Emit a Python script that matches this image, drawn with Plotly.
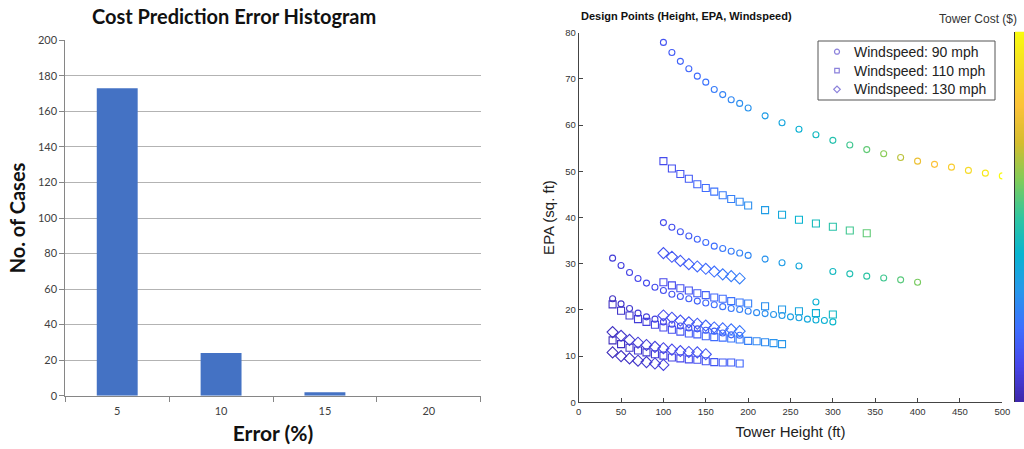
import numpy as np
import plotly.graph_objects as go

# ---------------- Histogram of cost prediction error ----------------
error_bins = ["5", "10", "15", "20"]
case_counts = [173, 24, 2, 0]

# ---------------- Design points (height, EPA, windspeed) ----------------
# 90 mph curves
h90_a = [100, 110, 120, 130, 140, 150, 160, 170, 180, 190, 200,
         220, 240, 260, 280, 300, 320, 340, 360, 380, 400, 420, 440, 460, 480, 500]
epa90_a = [77.9, 75.7, 73.8, 72.2, 70.6, 69.3, 67.7, 66.6, 65.5, 64.7, 63.7,
           62.0, 60.5, 59.1, 57.9, 56.7, 55.7, 54.7, 53.8, 53.0, 52.2, 51.5, 50.9, 50.2, 49.6, 49.0]
cost90_a = [33, 35, 37, 38, 39, 41, 43, 45, 46, 48, 49,
            52, 55, 59, 63, 67, 72, 76, 81, 87, 96, 100, 104, 109, 114, 120]

h90_b = [100, 110, 120, 130, 140, 150, 160, 170, 180, 190, 200,
         220, 240, 260, 280, 300, 320, 340, 360, 380, 400]
epa90_b = [38.9, 37.9, 36.9, 36.0, 35.3, 34.6, 33.8, 33.3, 32.7, 32.3, 31.8,
           31.0, 30.2, 29.5, 21.7, 28.3, 27.8, 27.3, 26.9, 26.5, 26.0]
cost90_b = [31, 32, 34, 35, 37, 39, 40, 42, 43, 45, 46,
            49, 52, 56, 59, 63, 66, 69, 72, 75, 79]

h90_c = [40, 50, 60, 70, 80, 90, 100, 110, 120, 130, 140, 150, 160, 170,
         180, 190, 200, 210, 220, 230, 240, 250, 260, 270, 280, 290, 300]
epa90_c = [31.2, 29.6, 28.1, 26.8, 25.8, 24.9, 24.2, 23.4, 22.9, 22.4, 21.9, 21.5, 21.1, 20.7,
           20.3, 20.1, 19.7, 19.4, 19.2, 19.0, 18.8, 18.5, 18.3, 18.0, 17.8, 17.7, 17.4]
cost90_c = [27, 28, 29, 30, 31, 31, 32, 33, 34, 36, 37, 38, 40, 41,
            42, 44, 45, 47, 48, 50, 51, 53, 54, 56, 58, 59, 61]

h90_d = [40, 50, 60, 70, 80, 90, 100, 110, 120, 130, 140, 150, 160, 170, 180, 190]
epa90_d = [22.4, 21.3, 20.3, 19.3, 18.5, 18.0, 17.4, 16.9, 16.5, 16.1, 15.9, 15.6, 15.4, 15.0, 14.6, 14.5]
cost90_d = [24, 25, 26, 27, 28, 28, 29, 30, 31, 32, 33, 35, 36, 37, 38, 40]

# 110 mph curves
h110_a = [100, 110, 120, 130, 140, 150, 160, 170, 180, 190, 200,
          220, 240, 260, 280, 300, 320, 340]
epa110_a = [52.2, 50.6, 49.4, 48.4, 47.2, 46.4, 45.6, 44.8, 44.0, 43.4, 42.6,
            41.6, 40.6, 39.5, 38.7, 38.0, 37.2, 36.6]
cost110_a = [31, 32, 33, 35, 37, 39, 41, 43, 44, 46, 48,
             52, 56, 60, 64, 68, 72, 76]

h110_b = [100, 110, 120, 130, 140, 150, 160, 170, 180, 190, 200,
          220, 240, 260, 280, 300]
epa110_b = [26.0, 25.3, 24.7, 24.2, 23.6, 23.2, 22.7, 22.4, 21.9, 21.6, 21.4,
            20.8, 20.1, 19.7, 19.3, 19.0]
cost110_b = [30, 31, 32, 33, 35, 36, 38, 39, 41, 42, 44,
             48, 51, 55, 58, 62]

h110_c = [40, 50, 60, 70, 80, 90, 100, 110, 120, 130, 140,
          150, 160, 170, 180, 190, 200, 210, 220, 230, 240]
epa110_c = [21.2, 19.8, 18.8, 18.0, 17.4, 16.8, 16.2, 15.7, 15.3, 14.9, 14.7,
            14.3, 14.1, 14.0, 13.8, 13.6, 13.3, 13.2, 13.0, 12.8, 12.6]
cost110_c = [24, 25, 26, 27, 28, 29, 30, 32, 33, 35, 36,
             37, 39, 40, 42, 43, 44, 46, 47, 49, 50]

h110_d = [40, 50, 60, 70, 80, 90, 100, 110, 120, 130, 140, 150, 160, 170, 180, 190]
epa110_d = [13.4, 12.6, 11.8, 11.2, 10.8, 10.4, 10.1, 9.7, 9.5, 9.3, 9.2, 8.9, 8.7, 8.6, 8.6, 8.4]
cost110_d = [23, 24, 25, 26, 26, 27, 28, 29, 30, 31, 32, 33, 34, 35, 36, 38]

# 130 mph curves
h130_a = [100, 110, 120, 130, 140, 150, 160, 170, 180, 190]
epa130_a = [32.3, 31.5, 30.6, 29.9, 29.4, 28.9, 28.3, 27.7, 27.3, 26.8]
cost130_a = [33, 34, 35, 36, 38, 39, 40, 42, 43, 44]

h130_b = [100, 110, 120, 130, 140, 150, 160, 170, 180, 190]
epa130_b = [18.8, 18.3, 17.7, 17.3, 17.0, 16.6, 16.2, 16.0, 15.8, 15.4]
cost130_b = [31, 32, 33, 34, 35, 37, 38, 39, 41, 42]

h130_c = [40, 50, 60, 70, 80, 90, 100, 110, 120, 130, 140, 150]
epa130_c = [15.2, 14.4, 13.5, 12.9, 12.4, 12.0, 11.7, 11.4, 11.1, 10.9, 10.8, 10.4]
cost130_c = [24, 25, 26, 27, 27, 28, 29, 30, 31, 32, 33, 34]

h130_d = [40, 50, 60, 70, 80, 90, 100]
epa130_d = [10.8, 10.0, 9.5, 9.0, 8.7, 8.4, 8.1]
cost130_d = [23, 24, 24, 25, 26, 27, 28]

windspeed_labels = ["Windspeed: 90 mph", "Windspeed: 110 mph", "Windspeed: 130 mph"]

cost_min, cost_max = 20, 120

parula = [
    [0.0, "#3e26a8"], [0.1, "#4747eb"], [0.2, "#3e6fff"], [0.3, "#2797eb"],
    [0.4, "#08b4d0"], [0.5, "#31c69f"], [0.6, "#80cc59"], [0.7, "#d4bd2e"],
    [0.8, "#fcc238"], [0.9, "#f5dd26"], [1.0, "#f9fb0e"],
]

W, H = 1024, 449


def px_x(p):
    return p / W


def px_y(p):
    return (H - p) / H


fig = go.Figure()

# ---- left: histogram bars ----
fig.add_trace(go.Bar(
    x=error_bins, y=case_counts, marker=dict(color="#4472c4", line=dict(width=0)),
    xaxis="x", yaxis="y", showlegend=False,
))

# ---- right: scatter of design points ----
groups = [
    ("circle-open", 6, [(h90_a, epa90_a, cost90_a), (h90_b, epa90_b, cost90_b),
                        (h90_c, epa90_c, cost90_c), (h90_d, epa90_d, cost90_d)]),
    ("square-open", 7, [(h110_a, epa110_a, cost110_a), (h110_b, epa110_b, cost110_b),
                        (h110_c, epa110_c, cost110_c), (h110_d, epa110_d, cost110_d)]),
    ("diamond-open", 8.5, [(h130_a, epa130_a, cost130_a), (h130_b, epa130_b, cost130_b),
                           (h130_c, epa130_c, cost130_c), (h130_d, epa130_d, cost130_d)]),
]

for symbol, size, curves in groups:
    xs, ys, cs = [], [], []
    for hx, ey, cc in curves:
        xs += hx
        ys += ey
        cs += cc
    fig.add_trace(go.Scatter(
        x=xs, y=ys, mode="markers", xaxis="x2", yaxis="y2", showlegend=False,
        marker=dict(symbol=symbol, size=size, color=cs, coloraxis="coloraxis",
                    line=dict(width=1.1)),
    ))

# ---- colour bar for tower cost (gradient strip on its own axes) ----
gradient = np.linspace(cost_min, cost_max, 256).reshape(-1, 1)
fig.add_trace(go.Heatmap(
    z=gradient, y=np.linspace(cost_min, cost_max, 256), x=[0],
    coloraxis="coloraxis", xaxis="x4", yaxis="y4", hoverinfo="skip",
))

# ---- legend box for the windspeed symbols (drawn on a pixel-space overlay axis) ----
legend_symbols = ["circle-open", "square-open", "diamond-open"]
legend_sizes = [5, 4.5, 5]
legend_left, legend_top, legend_right, legend_bottom = 818, 41, 995, 100
legend_rows = [51.7, 70.7, 89.3]

fig.add_trace(go.Scatter(
    x=[837] * 3, y=legend_rows, mode="markers", xaxis="x3", yaxis="y3", showlegend=False,
    hoverinfo="skip",
    marker=dict(symbol=legend_symbols, size=legend_sizes, color="#5a4bcc", line=dict(width=1.2)),
))

left_font = "Lato, 'Open Sans', sans-serif"
right_font = "'Liberation Sans', Arial, sans-serif"

annotations = [
    dict(text="<b>Cost Prediction Error Histogram</b>", x=px_x(234), y=px_y(16),
         xref="paper", yref="paper", xanchor="center", yanchor="middle", showarrow=False,
         font=dict(family=left_font, size=20, color="#111")),
    dict(text="<b>Design Points (Height, EPA, Windspeed)</b>", x=px_x(579), y=px_y(16),
         xref="paper", yref="paper", xanchor="left", yanchor="middle", showarrow=False,
         font=dict(family=right_font, size=11, color="#111")),
    dict(text="Tower Cost ($)", x=px_x(1019), y=px_y(19), xref="paper", yref="paper",
         xanchor="right", yanchor="middle", showarrow=False,
         font=dict(family=right_font, size=12, color="#333")),
]
for label, row in zip(windspeed_labels, legend_rows):
    annotations.append(dict(
        text=label, x=px_x(852), y=px_y(row), xref="paper", yref="paper",
        xanchor="left", yanchor="middle", showarrow=False,
        font=dict(family=right_font, size=14, color="#222"),
    ))

fig.update_layout(
    width=W, height=H,
    margin=dict(l=0, r=0, t=0, b=0, autoexpand=False),
    paper_bgcolor="white", plot_bgcolor="rgba(0,0,0,0)",
    bargap=0.606,
    showlegend=False,
    xaxis=dict(
        domain=[px_x(65.3), px_x(480.7)], type="category", automargin=False,
        tickson="boundaries", ticks="outside", ticklen=5, tickcolor="#868686",
        ticklabelstandoff=5,
        showline=True, linecolor="#868686", linewidth=1, showgrid=False,
        tickfont=dict(family=left_font, size=11, color="#404040"),
        title=dict(text="<b>Error (%)</b>", font=dict(family=left_font, size=21, color="#111"),
                   standoff=10),
        anchor="y", fixedrange=True,
    ),
    yaxis=dict(
        domain=[px_y(395.7), px_y(40.3)], range=[0, 200], dtick=20, automargin=False,
        ticks="outside", ticklen=5, tickcolor="#868686",
        showline=True, linecolor="#868686", linewidth=1,
        showgrid=True, gridcolor="#b3b3b3", gridwidth=1, zeroline=False,
        tickfont=dict(family=left_font, size=11, color="#404040"),
        title=dict(text="<b>No. of Cases</b>", font=dict(family=left_font, size=20, color="#111"),
                   standoff=6),
        anchor="x", fixedrange=True,
    ),
    xaxis2=dict(
        domain=[px_x(578.7), px_x(1002.3)], range=[0, 500], dtick=50, automargin=False,
        ticks="inside", ticklen=4, tickcolor="#444",
        showline=True, linecolor="#444", linewidth=1, showgrid=False, zeroline=False,
        tickfont=dict(family=right_font, size=9.5, color="#333"),
        title=dict(text="Tower Height (ft)", font=dict(family=right_font, size=15, color="#222"),
                   standoff=10),
        anchor="y2", fixedrange=True,
    ),
    yaxis2=dict(
        domain=[px_y(402.3), px_y(32.7)], range=[0, 80], dtick=10, automargin=False,
        ticks="inside", ticklen=4, tickcolor="#444",
        showline=True, linecolor="#444", linewidth=1, showgrid=False, zeroline=False,
        tickfont=dict(family=right_font, size=9.5, color="#333"),
        title=dict(text="EPA (sq. ft)", font=dict(family=right_font, size=15, color="#222"),
                   standoff=6),
        anchor="x2", fixedrange=True,
    ),
    xaxis3=dict(domain=[0, 1], range=[0, W], visible=False, anchor="y3", fixedrange=True,
                automargin=False),
    yaxis3=dict(domain=[0, 1], range=[H, 0], visible=False, anchor="x3", fixedrange=True,
                automargin=False),
    xaxis4=dict(domain=[px_x(1015), 1], range=[-0.5, 0.5], anchor="y4", fixedrange=True,
                automargin=False, showticklabels=False, ticks="", showgrid=False,
                zeroline=False, showline=False),
    yaxis4=dict(domain=[px_y(402.0), px_y(31.7)], range=[cost_min, cost_max], anchor="x4",
                automargin=False, fixedrange=True, showticklabels=False, ticks="",
                showgrid=False, zeroline=False, showline=True, linecolor="#333", linewidth=1),
    coloraxis=dict(colorscale=parula, cmin=cost_min, cmax=cost_max, showscale=False),
    shapes=[dict(
        type="rect", xref="paper", yref="paper", layer="below",
        x0=px_x(legend_left), x1=px_x(legend_right),
        y0=px_y(legend_bottom), y1=px_y(legend_top),
        line=dict(color="#555", width=1), fillcolor="white",
    )],
    annotations=annotations,
)

fig.write_html("out.html")
